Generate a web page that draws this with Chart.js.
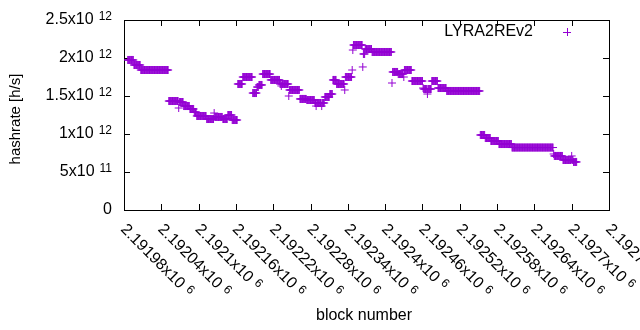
<!DOCTYPE html>
<html>
<head>
<meta charset="utf-8">
<script src="https://cdn.jsdelivr.net/npm/chart.js@4"></script>
<style>
  html, body { margin:0; padding:0; background:#fff; }
  #wrap { width:640px; height:330px; }
</style>
</head>
<body>
<div id="wrap"><canvas id="c"></canvas></div>
<script>
// === DATA ===
// hashrate per block, read off the picture as runs of equal value
const runStart = [
  2191986, 2191996, 2192007, 2192052, 2192068, 2192069, 2192076, 2192086, 2192093, 2192097,
  2192113, 2192125, 2192126, 2192139, 2192147, 2192154, 2192163, 2192171, 2192187, 2192194,
  2192197, 2192203, 2192216, 2192231, 2192233, 2192234, 2192245, 2192246, 2192263, 2192274,
  2192287, 2192289, 2192290, 2192298, 2192299, 2192303, 2192311, 2192316, 2192322, 2192335,
  2192336, 2192347, 2192348, 2192349, 2192364, 2192365, 2192368, 2192379, 2192411, 2192412,
  2192421, 2192430, 2192431, 2192443, 2192461, 2192462, 2192468, 2192469, 2192475, 2192485,
  2192499, 2192553, 2192561, 2192570, 2192583, 2192604, 2192671, 2192672, 2192686, 2192700,
  2192701, 2192703
];
const runValue = [
  1.974e12, 1.908e12, 1.842e12, 1.434e12, 1.342e12, 1.421e12, 1.368e12, 1.329e12, 1.289e12, 1.237e12,
  1.197e12, 1.276e12, 1.224e12, 1.197e12, 1.250e12, 1.184e12, 1.658e12, 1.750e12, 1.539e12, 1.618e12,
  1.645e12, 1.789e12, 1.711e12, 1.658e12, 1.632e12, 1.658e12, 1.500e12, 1.579e12, 1.461e12, 1.447e12,
  1.408e12, 1.368e12, 1.408e12, 1.368e12, 1.408e12, 1.487e12, 1.526e12, 1.711e12, 1.658e12, 1.579e12,
  1.750e12, 1.842e12, 2.105e12, 2.171e12, 1.882e12, 2.053e12, 2.118e12, 2.079e12, 1.671e12, 1.816e12,
  1.789e12, 1.750e12, 1.842e12, 1.697e12, 1.605e12, 1.592e12, 1.526e12, 1.592e12, 1.697e12, 1.605e12,
  1.566e12, 0.987e12, 0.947e12, 0.908e12, 0.868e12, 0.822e12, 0.737e12, 0.711e12, 0.658e12, 0.711e12,
  0.658e12, 0.632e12
];
const lastBlock = 2192708;

const xTickValues = [2191980, 2192040, 2192100, 2192160, 2192220, 2192280, 2192340,
                     2192400, 2192460, 2192520, 2192580, 2192640, 2192700, 2192760];
const xTickMant = ['2.19198','2.19204','2.1921','2.19216','2.19222','2.19228','2.19234',
                   '2.1924','2.19246','2.19252','2.19258','2.19264','2.1927','2.19276'];
const xTickExp = '6';

const yTickValues = [0, 5e11, 1e12, 1.5e12, 2e12, 2.5e12];
const yTickMant = ['0', '5', '1', '1.5', '2', '2.5'];
const yTickExp = ['', '11', '12', '12', '12', '12'];

const seriesName = 'LYRA2REv2';
const PURPLE = '#9400d3';

// expand runs into one point per block
const points = [];
runStart.forEach((b0, i) => {
  const b1 = i < runStart.length - 1 ? runStart[i+1] - 1 : lastBlock;
  for (let b = b0; b <= b1; b++) points.push({x:b, y:runValue[i]});
});

// === GNUPLOT-LIKE FRAME ===
const FONT = '"Liberation Sans", Arial, sans-serif';
const MAIN = '16px ' + FONT, SUP = '12px ' + FONT;
function sciWidth(ctx, mant, exp) {
  ctx.font = MAIN;
  let w = ctx.measureText(exp ? mant + 'x10' : mant).width;
  if (exp) { ctx.font = SUP; w += 5 + ctx.measureText(exp).width; }
  return w;
}
function drawSci(ctx, mant, exp, x, y) {
  ctx.font = MAIN;
  const main = exp ? mant + 'x10' : mant;
  ctx.fillText(main, x, y);
  if (exp) {
    const w = ctx.measureText(main).width;
    ctx.font = SUP;
    ctx.fillText(exp, x + w + 5, y - 3);
  }
}

const framePlugin = {
  id:'frame',
  beforeDatasetsDraw(chart) {
    const {ctx, chartArea:a, scales:{x, y}} = chart;
    ctx.save();
    ctx.strokeStyle = '#000'; ctx.lineWidth = 1;
    ctx.strokeRect(Math.round(a.left)+.5, Math.round(a.top)+.5,
                   Math.round(a.right-a.left), Math.round(a.bottom-a.top));
    ctx.beginPath();
    yTickValues.forEach(v => {
      const py = Math.round(y.getPixelForValue(v)) + .5;
      ctx.moveTo(a.left, py); ctx.lineTo(a.left + 6, py);
      ctx.moveTo(a.right, py); ctx.lineTo(a.right - 6, py);
    });
    xTickValues.forEach(v => {
      const px = Math.round(x.getPixelForValue(v)) + .5;
      ctx.moveTo(px, a.bottom); ctx.lineTo(px, a.bottom - 6);
      ctx.moveTo(px, a.top); ctx.lineTo(px, a.top + 6);
    });
    ctx.stroke();
    ctx.restore();
  },
  afterDraw(chart) {
    const {ctx, chartArea:a, scales:{x, y}} = chart;
    ctx.save();
    ctx.fillStyle = '#000';
    ctx.textBaseline = 'middle'; ctx.textAlign = 'left';
    // y tick labels, right aligned
    yTickValues.forEach((v, i) => {
      const w = sciWidth(ctx, yTickMant[i], yTickExp[i]);
      drawSci(ctx, yTickMant[i], yTickExp[i], 112 - w, y.getPixelForValue(v));
    });
    // x tick labels, rotated
    xTickValues.forEach((v, i) => {
      ctx.save();
      ctx.translate(x.getPixelForValue(v) - 1, a.bottom + 17);
      ctx.rotate(Math.PI / 4);
      drawSci(ctx, xTickMant[i], xTickExp, 0, 0);
      ctx.restore();
    });
    // axis titles
    ctx.font = MAIN;
    ctx.textAlign = 'center';
    ctx.fillText('block number', 364, 316);
    ctx.save();
    ctx.font = '15px ' + FONT;
    ctx.translate(16, 119); ctx.rotate(-Math.PI / 2);
    ctx.fillText('hashrate [h/s]', 0, 0);
    ctx.restore();
    // key
    ctx.font = MAIN;
    ctx.textAlign = 'right';
    ctx.fillText(seriesName, 533, 32);
    ctx.strokeStyle = PURPLE; ctx.lineWidth = 1;
    ctx.beginPath();
    ctx.moveTo(563, 32.5); ctx.lineTo(571, 32.5);
    ctx.moveTo(567.5, 28); ctx.lineTo(567.5, 36);
    ctx.stroke();
    ctx.restore();
  }
};

new Chart(document.getElementById('c'), {
  type:'scatter',
  data:{datasets:[{label:seriesName, data:points,
    pointStyle:'cross', pointRadius:4, pointBorderWidth:1,
    borderColor:PURPLE, backgroundColor:PURPLE, showLine:false}]},
  options:{responsive:true, maintainAspectRatio:false, animation:false,
    layout:{padding:{left:124, right:31, top:20, bottom:120}},
    plugins:{legend:{display:false}, tooltip:{enabled:false}},
    scales:{
      x:{type:'linear', display:false, min:2191980, max:2192760},
      y:{type:'linear', display:false, min:0, max:2.5e12}}},
  plugins:[framePlugin]
});
</script>
</body>
</html>
